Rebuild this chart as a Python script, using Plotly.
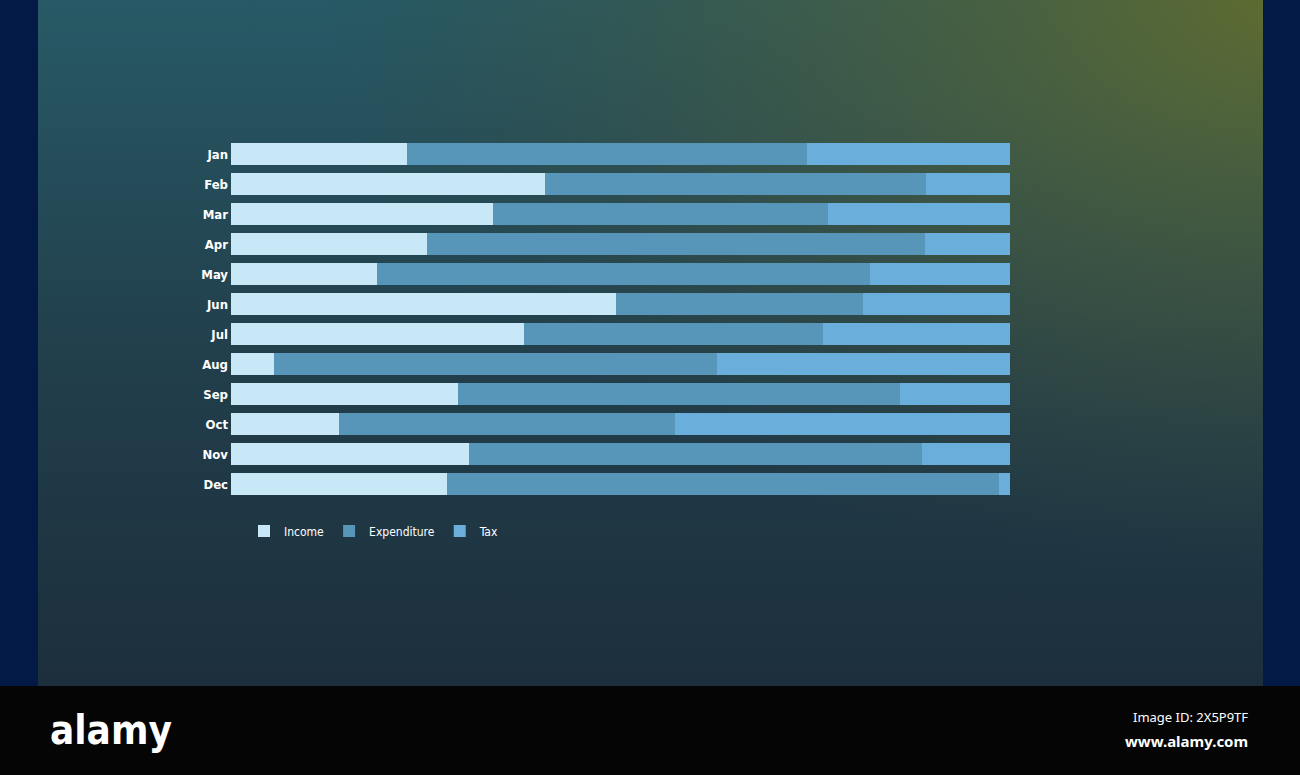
import base64
import plotly.graph_objects as go

months = ["Jan", "Feb", "Mar", "Apr", "May", "Jun", "Jul", "Aug", "Sep", "Oct", "Nov", "Dec"]
income = [22.6, 40.3, 33.6, 25.2, 18.7, 49.4, 37.6, 5.5, 29.1, 13.9, 30.6, 27.7]
expenditure = [51.3, 48.9, 43.1, 63.9, 63.3, 31.7, 38.4, 56.9, 56.8, 43.1, 58.1, 70.9]
tax = [26.1, 10.8, 23.3, 10.9, 18.0, 18.9, 24.0, 37.6, 14.1, 43.0, 11.3, 1.4]

series = [("Income", income, "#c8e8f8"),
          ("Expenditure", expenditure, "#5795b9"),
          ("Tax", tax, "#6aafdc")]

# background gradient (teal top-left, olive top-right, dark navy bottom)
svg = """<svg xmlns='http://www.w3.org/2000/svg' width='1300' height='775'>
<defs>
<linearGradient id='v' x1='0' y1='0' x2='0' y2='1'>
<stop offset='0' stop-color='#275a66'/>
<stop offset='0.45' stop-color='#223f4c'/>
<stop offset='1' stop-color='#1b2a38'/>
</linearGradient>
<radialGradient id='o' cx='1' cy='0' r='0.75'>
<stop offset='0' stop-color='#606d30' stop-opacity='1'/>
<stop offset='0.6' stop-color='#4a5a38' stop-opacity='0.45'/>
<stop offset='1' stop-color='#3a4a3a' stop-opacity='0'/>
</radialGradient>
</defs>
<rect width='1300' height='775' fill='url(#v)'/>
<rect width='1300' height='775' fill='url(#o)'/>
</svg>"""
bg_src = "data:image/svg+xml;base64," + base64.b64encode(svg.encode()).decode()

fig = go.Figure()
for name, vals, color in series:
    fig.add_trace(go.Bar(
        y=months, x=vals, name=name, orientation="h",
        marker=dict(color=color, line=dict(width=0)),
        hoverinfo="skip",
    ))

font_fam = "DejaVu Sans Condensed, Liberation Sans Narrow, Roboto, sans-serif"

fig.update_layout(
    width=1300, height=775,
    margin=dict(l=0, r=0, t=0, b=0),
    barmode="stack", barnorm="percent", bargap=0.27,
    paper_bgcolor="#1c2b38", plot_bgcolor="rgba(0,0,0,0)",
    font=dict(family=font_fam, color="white", size=13),
    xaxis=dict(domain=[231 / 1300, 1010 / 1300], range=[0, 100], visible=False,
               fixedrange=True),
    yaxis=dict(domain=[1 - 499 / 775, 1 - 139 / 775], autorange="reversed",
               showgrid=False, zeroline=False, showline=False, ticks="",
               ticklabelstandoff=2, tickfont=dict(size=13, color="white", weight=600),
               fixedrange=True),
    legend=dict(orientation="h", x=244 / 1300, y=1 - 531 / 775, yanchor="middle",
                xanchor="left", bgcolor="rgba(0,0,0,0)", traceorder="normal",
                font=dict(size=12, color="white"), itemclick=False),
    showlegend=True,
    images=[dict(source=bg_src, xref="paper", yref="paper", x=0, y=1,
                 sizex=1, sizey=1, sizing="stretch", layer="below")],
    shapes=[
        dict(type="rect", xref="paper", yref="paper", x0=0, x1=38 / 1300, y0=0, y1=1,
             fillcolor="#021a45", line=dict(width=0), layer="above"),
        dict(type="rect", xref="paper", yref="paper", x0=1263 / 1300, x1=1, y0=0, y1=1,
             fillcolor="#021a45", line=dict(width=0), layer="above"),
        dict(type="rect", xref="paper", yref="paper", x0=0, x1=1, y0=0, y1=89 / 775,
             fillcolor="#050505", line=dict(width=0), layer="above"),
    ],
    annotations=[
        dict(text="<b>alamy</b>", xref="paper", yref="paper", x=48 / 1300, y=1 - 730 / 775,
             xanchor="left", yanchor="middle", showarrow=False,
             font=dict(size=40, color="white", family=font_fam)),
        dict(text="Image ID: 2X5P9TF", xref="paper", yref="paper", x=1250 / 1300,
             y=1 - 717 / 775, xanchor="right", yanchor="middle", showarrow=False,
             font=dict(size=13, color="white", family="Noto Sans, sans-serif")),
        dict(text="<b>www.alamy.com</b>", xref="paper", yref="paper", x=1250 / 1300,
             y=1 - 741 / 775, xanchor="right", yanchor="middle", showarrow=False,
             font=dict(size=15, color="white", family="Noto Sans, sans-serif")),
    ],
)

fig.write_html("out.html", config={"displayModeBar": False},
               post_script="document.body.style.margin='0px';")
